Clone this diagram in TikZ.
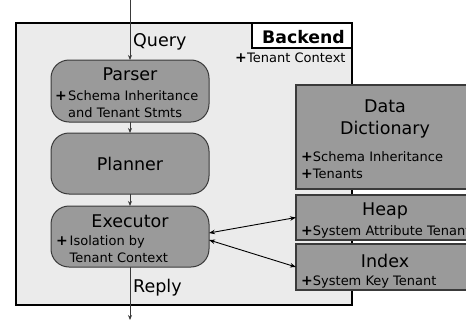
\documentclass[tikz,border=0pt]{standalone}
\usepackage{fontspec}
\setmainfont{DejaVu Sans}
\usetikzlibrary{arrows.meta}
\definecolor{framebg}{HTML}{EBEBEB}
\definecolor{boxgray}{HTML}{9A9A9A}
\definecolor{edgegray}{HTML}{3A3A3A}
\newcommand{\plusmark}{{\fontsize{14}{17}\selectfont\bfseries+}}
\begin{document}
\begin{tikzpicture}[x=1pt,y=-1pt,
  stage/.style={draw=edgegray, fill=boxgray, rounded corners=18pt, line width=1pt,
    minimum width=158pt, inner sep=0pt, outer sep=0pt, anchor=north west},
  store/.style={draw=edgegray, fill=boxgray, line width=1.2pt,
    minimum width=180pt, inner sep=0pt, outer sep=0pt, anchor=north west},
  big/.style={font=\fontsize{17.5}{21}\selectfont, inner sep=0pt, anchor=base},
  bigleft/.style={font=\fontsize{17.5}{21}\selectfont, inner sep=0pt, anchor=base west},
  small/.style={font=\fontsize{13}{17}\selectfont, inner sep=0pt, anchor=base west},
  flow/.style={draw=edgegray, line width=0.9pt, -{Stealth[length=5pt,width=4pt]}},
  link/.style={draw=black, line width=0.9pt, {Stealth[length=6pt,width=4.5pt]}-{Stealth[length=6pt,width=4.5pt]}}
]
\useasboundingbox (0,0) rectangle (466,324);
\clip (0,0) rectangle (466,324);

% backend frame and its title tab
\node[draw=black, fill=framebg, line width=1.6pt, inner sep=0pt, outer sep=0pt,
  anchor=north west, minimum width=336pt, minimum height=282pt] (backend) at (16,23) {};
\node[draw=black, fill=white, line width=1.2pt, inner sep=0pt, outer sep=0pt,
  anchor=north west, minimum width=100pt, minimum height=25pt] (tab) at (252,23) {};
\node[font=\fontsize{17.3}{21}\selectfont\bfseries, inner sep=0pt, anchor=base west] (tabtext) at (262,43) {Backend};
\node[small] (ctxplus) at (235,62) {\plusmark};
\node[small] (ctx) at (247,62) {Tenant Context};

% query pipeline
\node[stage, minimum height=62pt] (parser) at (51,60) {};
\node[stage, minimum height=61pt] (planner) at (51,133) {};
\node[stage, minimum height=61pt] (executor) at (51,206) {};

\node[big] (parsertitle) at (130,80) {Parser};
\node[small] (parserplus) at (55,100) {\plusmark};
\node[small] (parserl1) at (68,100) {Schema Inheritance};
\node[small] (parserl2) at (68,117) {and Tenant Stmts};

\node[big] (plannertitle) at (130,170) {Planner};

\node[big] (executortitle) at (130,227.5) {Executor};
\node[small] (execplus) at (56,245) {\plusmark};
\node[small] (execl1) at (69.5,245) {Isolation by};
\node[small] (execl2) at (69.5,262) {Tenant Context};

% storage side
\node[store, minimum height=104pt] (dict) at (296,85) {};
\node[store, minimum height=45pt] (heap) at (296,195) {};
\node[store, minimum height=46pt] (index) at (296,244) {};

\node[big] (dicttitle1) at (385,112) {Data};
\node[big] (dicttitle2) at (385,134) {Dictionary};
\node[small] (dictl1) at (301,161) {\plusmark Schema Inheritance};
\node[small] (dictl2) at (301,178) {\plusmark Tenants};

\node[big] (heaptitle) at (385,215) {Heap};
\node[small] (heapl1) at (301,235) {\plusmark System Attribute Tenant};

\node[big] (indextitle) at (385,267) {Index};
\node[small] (indexl1) at (301,285) {\plusmark System Key Tenant};

% in and out
\coordinate (qin) at (130,0);
\coordinate (rout) at (130,320);
\node[bigleft] (querylbl) at (133,46) {Query};
\node[bigleft] (replylbl) at (133,292.5) {Reply};

\draw[flow] (qin) -- (parser.north);
\draw[flow] (parser.south) -- (planner.north);
\draw[flow] (planner.south) -- (executor.north);
\draw[flow] (executor.south) -- (rout);

% executor talks to heap (upper) and index (lower)
\draw[link] ([yshift=3.5pt]executor.east) -- (heap.west);
\draw[link] ([yshift=-3.5pt]executor.east) -- (index.west);
\end{tikzpicture}
\end{document}
